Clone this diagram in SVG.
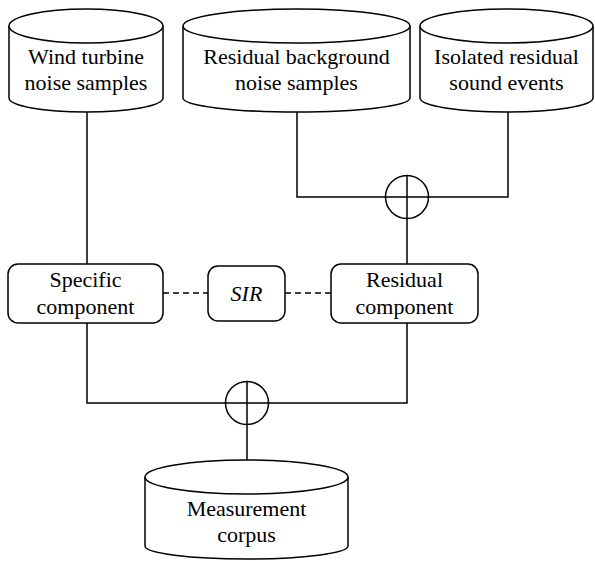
<svg xmlns="http://www.w3.org/2000/svg" width="595" height="561" viewBox="0 0 595 561">
<style>
.s{fill:#fff;stroke:#000;stroke-width:1.5}
.l{fill:none;stroke:#000;stroke-width:1.5}
.d{fill:none;stroke:#000;stroke-width:1.5;stroke-dasharray:6,4}
</style>
<rect width="595" height="561" fill="#fff"/>
<g id="connectors">
<path class="l" d="M87,112V264"/>
<path class="l" d="M297,112V197H508V112"/>
<path class="l" d="M407,175V264"/>
<path class="d" d="M163,293H208M285,293H331"/>
<path class="l" d="M87,323V403H407V323"/>
<path class="l" d="M247,381V460"/>
</g>
<g id="sum1"><circle class="s" cx="407" cy="197" r="21.5"/><path class="l" d="M407,175.5V218.5M385.5,197H428.5"/></g>
<g id="sum2"><circle class="s" cx="247" cy="403" r="21.5"/><path class="l" d="M247,381.5V424.5M225.5,403H268.5"/></g>
<g id="wind">
<path class="s" d="M9,26V98A77,14 0 0 0 163,98V26"/>
<ellipse class="s" cx="86" cy="26" rx="77" ry="17"/>
<text x="86" y="64" font-family="Liberation Serif" font-size="22" text-anchor="middle">Wind turbine</text>
<text x="86" y="90" font-family="Liberation Serif" font-size="22" text-anchor="middle">noise samples</text>
</g>
<g id="residualbg">
<path class="s" d="M183,26V98A113.5,14 0 0 0 410,98V26"/>
<ellipse class="s" cx="296.5" cy="26" rx="113.5" ry="17"/>
<text x="296.5" y="64" font-family="Liberation Serif" font-size="22" text-anchor="middle">Residual background</text>
<text x="296.5" y="90" font-family="Liberation Serif" font-size="22" text-anchor="middle">noise samples</text>
</g>
<g id="isolated">
<path class="s" d="M420,26V98A86.5,14 0 0 0 593,98V26"/>
<ellipse class="s" cx="506.5" cy="26" rx="86.5" ry="17"/>
<text x="506.5" y="64" font-family="Liberation Serif" font-size="22" text-anchor="middle">Isolated residual</text>
<text x="506.5" y="90" font-family="Liberation Serif" font-size="22" text-anchor="middle">sound events</text>
</g>
<g id="specific">
<rect class="s" x="8" y="264" width="155" height="59" rx="10"/>
<text x="85.5" y="287" font-family="Liberation Serif" font-size="22" text-anchor="middle">Specific</text>
<text x="85.5" y="314" font-family="Liberation Serif" font-size="22" text-anchor="middle">component</text>
</g>
<g id="sir">
<rect class="s" x="208" y="266" width="77" height="55" rx="10"/>
<text x="246.5" y="301" font-family="Liberation Serif" font-size="22" text-anchor="middle" font-style="italic">SIR</text>
</g>
<g id="residual">
<rect class="s" x="331" y="264" width="147" height="59" rx="10"/>
<text x="404.5" y="287" font-family="Liberation Serif" font-size="22" text-anchor="middle">Residual</text>
<text x="404.5" y="314" font-family="Liberation Serif" font-size="22" text-anchor="middle">component</text>
</g>
<g id="corpus">
<path class="s" d="M145,477V546A101.5,13 0 0 0 348,546V477"/>
<ellipse class="s" cx="246.5" cy="477" rx="101.5" ry="17"/>
<text x="246.5" y="516" font-family="Liberation Serif" font-size="22" text-anchor="middle">Measurement</text>
<text x="246.5" y="542" font-family="Liberation Serif" font-size="22" text-anchor="middle">corpus</text>
</g>
</svg>
